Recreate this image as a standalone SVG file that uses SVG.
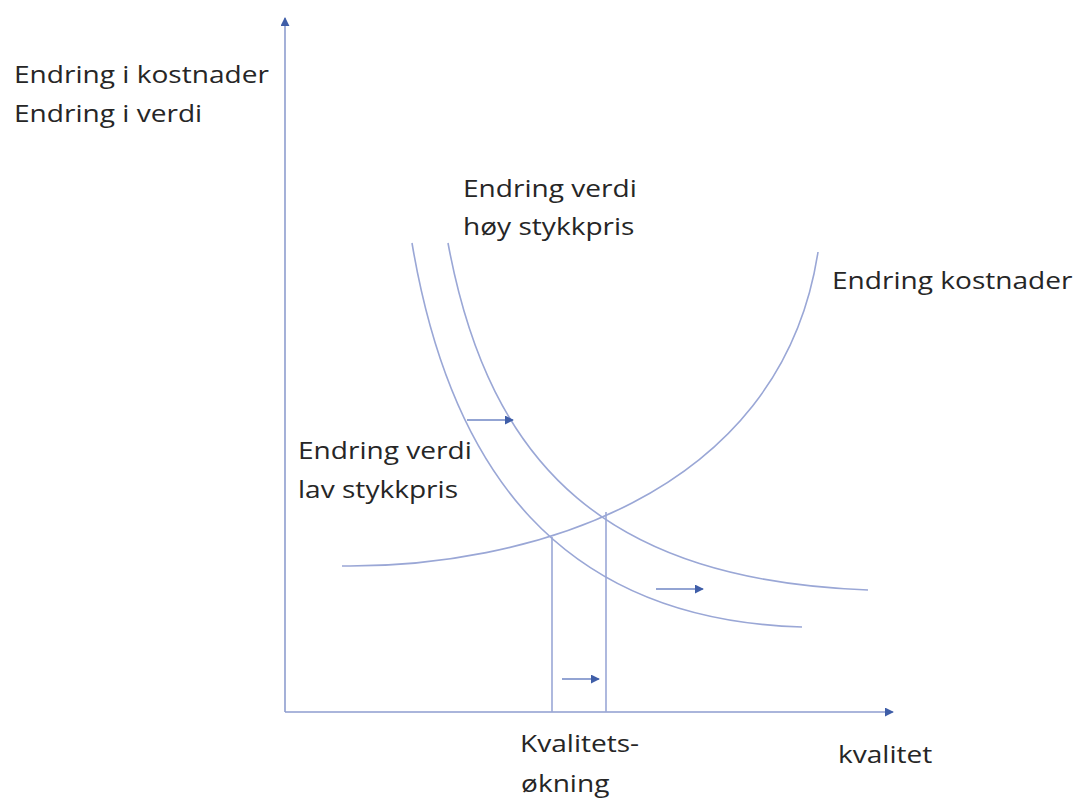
<svg xmlns="http://www.w3.org/2000/svg" width="1075" height="798" viewBox="0 0 1075 798">
<defs>
<marker id="ah" viewBox="0 0 10 10" refX="9" refY="5" markerWidth="9" markerHeight="9" markerUnits="userSpaceOnUse" orient="auto">
<path d="M0,0 L10,5 L0,10 z" fill="#3f5ea8"/>
</marker>
<style>
.ax{stroke:#8e9dcf;stroke-width:1.6;fill:none}
.cv{stroke:#9aa7d6;stroke-width:1.6;fill:none}
.ar{stroke:#6f86c4;stroke-width:1.6;fill:none}
text{font-family:"Open Sans","DejaVu Sans",sans-serif;font-size:24px;fill:#262626}
</style>
</defs>
<rect width="1075" height="798" fill="#ffffff"/>
<g id="connectors">
<line class="ax" x1="285" y1="712" x2="285" y2="18" marker-end="url(#ah)"/>
<line class="ax" x1="285" y1="712" x2="893" y2="712" marker-end="url(#ah)"/>
<path id="cost-curve" class="cv" d="M342,566 C520,568 780,500 818,252"/>
<path id="value-low" class="cv" d="M412,243 C450,470 560,620 802,627"/>
<path id="value-high" class="cv" d="M448,243 C490,470 610,580 868,590"/>
<line class="cv" x1="552" y1="537" x2="552" y2="712"/>
<line class="cv" x1="606" y1="512" x2="606" y2="712"/>
<line class="ar" x1="467" y1="420" x2="513" y2="420" marker-end="url(#ah)"/>
<line class="ar" x1="656" y1="589" x2="703" y2="589" marker-end="url(#ah)"/>
<line class="ar" x1="562" y1="679" x2="599" y2="679" marker-end="url(#ah)"/>
</g>
<g id="y-axis-label">
<text transform="translate(14,83) scale(1.17,1)">Endring i kostnader</text>
<text transform="translate(14,122) scale(1.17,1)">Endring i verdi</text>
</g>
<g id="label-high">
<text transform="translate(463,197) scale(1.17,1)">Endring verdi</text>
<text transform="translate(463,235) scale(1.17,1)">høy stykkpris</text>
</g>
<g id="label-cost">
<text transform="translate(832,289) scale(1.17,1)">Endring kostnader</text>
</g>
<g id="label-low">
<text transform="translate(298,459) scale(1.17,1)">Endring verdi</text>
<text transform="translate(298,498) scale(1.17,1)">lav stykkpris</text>
</g>
<g id="label-quality-increase">
<text transform="translate(520,752) scale(1.17,1)">Kvalitets-</text>
<text transform="translate(521,792) scale(1.17,1)">økning</text>
</g>
<g id="x-axis-label">
<text transform="translate(838,763) scale(1.17,1)">kvalitet</text>
</g>
</svg>
